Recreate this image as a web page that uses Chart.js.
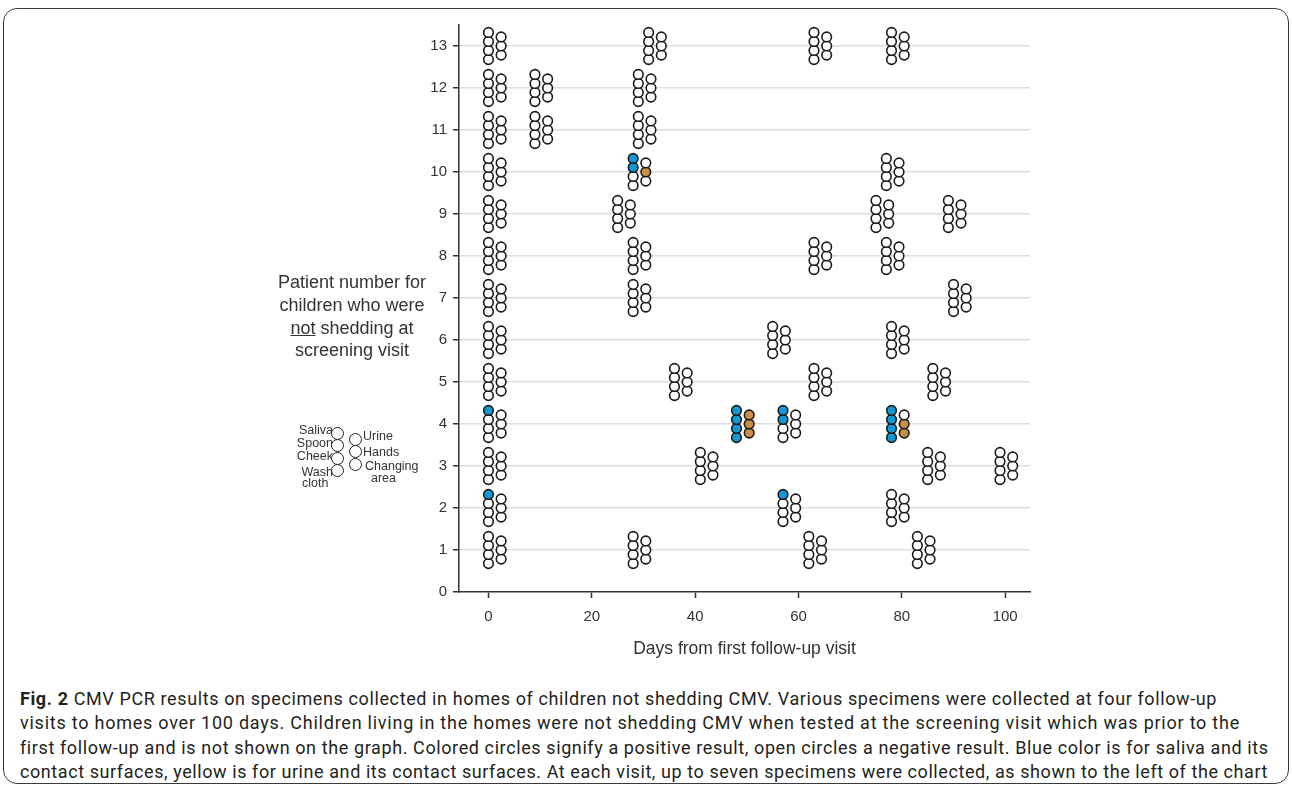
<!DOCTYPE html>
<html>
<head>
<meta charset="utf-8">
<script src="https://cdn.jsdelivr.net/npm/chart.js@4.4.1/dist/chart.umd.min.js"></script>
<style>
	body {
		margin: 0;
		width: 1292px;
		height: 785px;
		position: relative;
		background: #fff;
		font-family: 'Liberation Sans', Arial, sans-serif;
		color: #333;
		overflow: hidden;
	}
	.frame {
		position: absolute;
		left: 3px;
		top: 8px;
		width: 1284px;
		height: 774px;
		border: 1.5px solid #3a3a3a;
		border-radius: 14px;
	}
	.chart-box {
		position: absolute;
		left: 270px;
		top: 10px;
		width: 770px;
		height: 660px;
	}
	.ylabel {
		position: absolute;
		left: 262px;
		top: 271px;
		width: 180px;
		text-align: center;
		font-size: 18px;
		line-height: 22.8px;
	}
	.legend span {
		position: absolute;
		font-size: 12.5px;
		line-height: 14px;
		white-space: nowrap;
	}
	.legend i {
		position: absolute;
		width: 11px;
		height: 11px;
		border: 1.6px solid #222;
		border-radius: 50%;
		background: #fff;
	}
	.caption {
		position: absolute;
		left: 20px;
		top: 687px;
		font-family: Roboto, 'Noto Sans', sans-serif;
		font-size: 18px;
		line-height: 24.3px;
		color: #231f20;
		white-space: nowrap;
	}
	.caption div span {
		display: inline-block;
	}
</style>
</head>
<body>
<div class="frame"></div>
<div class="chart-box"><canvas id="myChart"></canvas></div>

<div class="ylabel">Patient number for<br>children who were<br><u>not</u> shedding at<br>screening visit</div>

<div class="legend">
	<span style="right: 959px; top: 423px">Saliva</span>
	<span style="right: 959px; top: 436px">Spoon</span>
	<span style="right: 959px; top: 449px">Cheek</span>
	<span style="right: 959px; top: 465px">Wash</span>
	<span style="left: 302px; top: 476px">cloth</span>
	<span style="left: 363px; top: 429px">Urine</span>
	<span style="left: 363px; top: 445px">Hands</span>
	<span style="left: 365px; top: 459px">Changing</span>
	<span style="left: 371px; top: 471px">area</span>
	<i style="left: 330.5px; top: 426.5px"></i>
	<i style="left: 330.5px; top: 439px"></i>
	<i style="left: 330.5px; top: 451.5px"></i>
	<i style="left: 330.5px; top: 464px"></i>
	<i style="left: 348.5px; top: 432.5px"></i>
	<i style="left: 348.5px; top: 445px"></i>
	<i style="left: 348.5px; top: 457.5px"></i>
</div>

<div class="caption">
	<div><span data-end="1217"><b>Fig. 2</b> CMV PCR results on specimens collected in homes of children not shedding CMV. Various specimens were collected at four follow-up</span></div>
	<div><span data-end="1240">visits to homes over 100 days. Children living in the homes were not shedding CMV when tested at the screening visit which was prior to the</span></div>
	<div><span data-end="1268">first follow-up and is not shown on the graph. Colored circles signify a positive result, open circles a negative result. Blue color is for saliva and its</span></div>
	<div><span data-end="1268">contact surfaces, yellow is for urine and its contact surfaces. At each visit, up to seven specimens were collected, as shown to the left of the chart</span></div>
</div>

<script>
/* Data */
const patients = [1, 2, 3, 4, 5, 6, 7, 8, 9, 10, 11, 12, 13]
const visitDays = [
	[0, 28, 62, 83],
	[0, 57, 78],
	[0, 41, 85, 99],
	[0, 48, 57, 78],
	[0, 36, 63, 86],
	[0, 55, 78],
	[0, 28, 90],
	[0, 28, 63, 77],
	[0, 25, 75, 89],
	[0, 28, 77],
	[0, 9, 29],
	[0, 9, 29],
	[0, 31, 63, 78],
]
const specimens = ['Saliva', 'Spoon', 'Cheek', 'Wash cloth', 'Urine', 'Hands', 'Changing area']

// positive results: patient, visit day, specimens
const posPatient = [10, 4, 4, 4, 4, 2, 2]
const posDay = [28, 0, 48, 57, 78, 0, 57]
const posSpecimens = [
	['Saliva', 'Spoon', 'Hands'],
	['Saliva'],
	['Saliva', 'Spoon', 'Cheek', 'Wash cloth', 'Urine', 'Hands', 'Changing area'],
	['Saliva', 'Spoon'],
	['Saliva', 'Spoon', 'Cheek', 'Wash cloth', 'Hands', 'Changing area'],
	['Saliva'],
	['Saliva'],
]

const xTicks = [0, 20, 40, 60, 80, 100]
const yTicks = [0, 1, 2, 3, 4, 5, 6, 7, 8, 9, 10, 11, 12, 13]

/* Layout of one visit: 4 circles on the left, 3 on the right */
const colShift = 2.45
const rowStep = 0.215
const specimenCol = [0, 0, 0, 0, 1, 1, 1]
const specimenRow = [1.5, 0.5, -0.5, -1.5, 1, 0, -1]
const blue = '#1199d6'
const tan = '#c98f47'

function isPositive(patient, day, name) {
	for (let i = 0; i < posPatient.length; i++) {
		if (posPatient[i] === patient && posDay[i] === day && posSpecimens[i].includes(name)) return true
	}
	return false
}

const datasets = specimens.map(function (name, s) {
	let points = []
	patients.forEach(function (p, i) {
		visitDays[i].forEach(function (d) {
			points.push({
				x: d + specimenCol[s] * colShift,
				y: p + specimenRow[s] * rowStep,
				pos: isPositive(p, d, name),
			})
		})
	})
	let fill = specimenCol[s] === 0 ? blue : tan
	return {
		label: name,
		data: points,
		pointRadius: 4.8,
		pointBorderWidth: 1.6,
		pointBorderColor: '#1a1a1a',
		pointBackgroundColor: function (ctx) {
			return ctx.raw && ctx.raw.pos ? fill : '#fff'
		},
		clip: false,
	}
})

/* Caption: stretch each line to the width it has in the figure */
document.querySelectorAll('.caption span[data-end]').forEach(function (el) {
	let target = Number(el.dataset.end) - 20
	let width = el.getBoundingClientRect().width
	let chars = el.textContent.length
	el.style.letterSpacing = ((target - width) / chars).toFixed(3) + 'px'
})

/* Chart.js */
const ctx = document.getElementById('myChart')

new Chart(ctx, {
	type: 'scatter',
	data: { datasets: datasets },
	options: {
		responsive: true,
		maintainAspectRatio: false,
		animation: false,
		layout: {
			padding: { top: 15, right: 10, left: 0, bottom: 0 },
		},
		plugins: {
			legend: { display: false },
			tooltip: { enabled: false },
		},
		scales: {
			x: {
				type: 'linear',
				min: -5.7,
				max: 104.8,
				afterBuildTicks: function (axis) {
					axis.ticks = xTicks.map(v => ({ value: v }))
				},
				afterFit: function (scale) {
					scale.height = 78
				},
				grid: {
					drawOnChartArea: false,
					tickLength: 6,
					tickColor: '#333',
					tickWidth: 1.5,
				},
				border: { color: '#333', width: 1.5 },
				ticks: {
					color: '#333',
					font: { family: 'Liberation Sans', size: 15 },
					padding: 10,
					maxRotation: 0,
				},
				title: {
					display: true,
					text: 'Days from first follow-up visit',
					color: '#333',
					font: { family: 'Liberation Sans', size: 17.5 },
					padding: { top: 4, bottom: 10 },
				},
			},
			y: {
				type: 'linear',
				min: 0,
				max: 13.5,
				afterBuildTicks: function (axis) {
					axis.ticks = yTicks.map(v => ({ value: v }))
				},
				afterFit: function (scale) {
					scale.width = 189
				},
				grid: {
					color: function (c) {
						return c.tick && c.tick.value === 0 ? 'rgba(0,0,0,0)' : '#dddddd'
					},
					lineWidth: 1.5,
					tickLength: 6,
					tickColor: '#333',
					tickWidth: 1.5,
				},
				border: { color: '#333', width: 1.5 },
				ticks: {
					color: '#333',
					font: { family: 'Liberation Sans', size: 15 },
					padding: 6,
				},
			},
		},
	},
})
</script>
</body>
</html>
